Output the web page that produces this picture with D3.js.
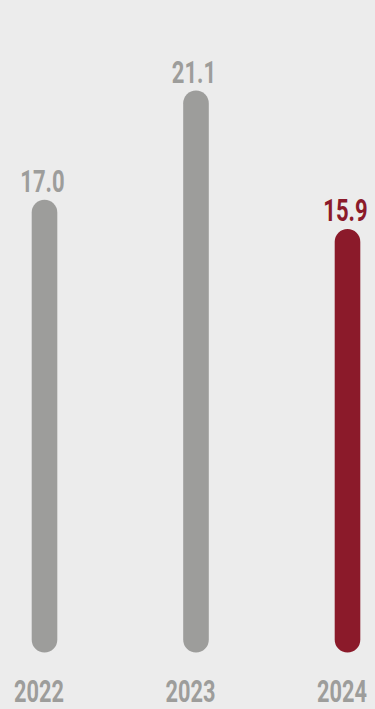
<!DOCTYPE html>
<html>
<head>
<meta charset="utf-8">
<script src="https://cdn.jsdelivr.net/npm/d3@7"></script>
<style>
  html, body { margin: 0; padding: 0; background: #ececec; }
  svg { display: block; }
  text { font-family: Roboto, "Noto Sans", sans-serif; font-weight: 700; }
</style>
</head>
<body>
<script>
const years = ["2022", "2023", "2024"];
const values = [17.0, 21.1, 15.9];
const labels = ["17.0", "21.1", "15.9"];
const colors = ["#9d9d9b", "#9d9d9b", "#8b1a2a"];

const W = 375, H = 709;
const barW = 25.6;

const svg = d3.select("body").append("svg")
  .attr("width", W).attr("height", H);

svg.append("rect").attr("width", W).attr("height", H).attr("fill", "#ececec");

const x = d3.scalePoint().domain(years).range([44.5, 347.5]);
const y = d3.scaleLinear().domain([0, 21.1]).range([652.5, 90.5]);

const data = years.map((yr, i) => ({ yr, v: values[i], label: labels[i], color: colors[i] }));

svg.selectAll("rect.bar").data(data).join("rect")
  .attr("class", "bar")
  .attr("x", d => x(d.yr) - barW / 2)
  .attr("width", barW)
  .attr("y", d => y(d.v))
  .attr("height", d => y(0) - y(d.v))
  .attr("rx", barW / 2)
  .attr("fill", d => d.color);

svg.selectAll("text.val").data(data).join("text")
  .attr("class", "val")
  .attr("text-anchor", "middle")
  .attr("transform", d => `translate(${x(d.yr) - 2},${y(d.v) - 8}) scale(0.7,1)`)
  .attr("font-size", 31.5)
  .attr("fill", d => d.color)
  .text(d => d.label);

// x axis labels
const axis = d3.axisBottom(x).tickSize(0).tickPadding(0);
const g = svg.append("g").call(axis);
g.select(".domain").remove();
g.selectAll(".tick text")
  .attr("y", 0).attr("dy", 0)
  .attr("text-anchor", "middle")
  .attr("transform", "translate(-6,702) scale(0.68,1)")
  .attr("font-size", 32)
  .attr("fill", "#9d9d9b")
  .style("font-family", "Roboto, 'Noto Sans', sans-serif")
  .style("font-weight", 700);
</script>
</body>
</html>
